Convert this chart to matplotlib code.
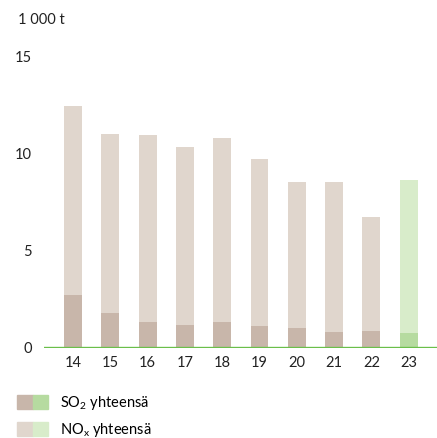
import matplotlib
matplotlib.use('Agg')
import matplotlib.pyplot as plt
from matplotlib.patches import Patch
from matplotlib.legend_handler import HandlerTuple

plt.rcParams['font.family'] = ['Lato', 'DejaVu Sans']
plt.rcParams['mathtext.fontset'] = 'custom'
plt.rcParams['mathtext.rm'] = 'Lato'

# data (1 000 t)
years = ['14', '15', '16', '17', '18', '19', '20', '21', '22', '23']
so2 = [2.73, 1.80, 1.34, 1.19, 1.34, 1.13, 1.03, 0.82, 0.88, 0.77]
nox = [9.74, 9.23, 9.64, 9.17, 9.48, 8.61, 7.53, 7.74, 5.87, 7.89]

# colours: older years brown, latest year green
so2_col = ['#c8b6aa'] * 9 + ['#b6dba0']
nox_col = ['#e0d6cd'] * 9 + ['#d8ecca']

fig = plt.figure(figsize=(4.37, 4.38), dpi=100)
ax = fig.add_axes([0.1007, 0.2055, 0.8993, 0.6645])

x = list(range(len(years)))
ax.bar(x, so2, width=0.48, color=so2_col)
ax.bar(x, nox, width=0.48, bottom=so2, color=nox_col)
ax.axhline(0, color='#6abf4a', lw=1.7, zorder=3)

ax.set_xlim(-0.78, 9.76)
ax.set_ylim(0, 15)
ax.set_yticks([0, 5, 10, 15])
ax.set_xticks(x)
ax.set_xticklabels(years)
ax.tick_params(length=0, labelsize=10.5, colors='#222222')
ax.tick_params(axis='y', pad=9)
ax.tick_params(axis='x', pad=6)
for s in ax.spines.values():
    s.set_visible(False)

fig.text(0.041, 0.955, '1 000 t', fontsize=10.5, color='#222222', va='center')

h1 = (Patch(color=so2_col[0]), Patch(color=so2_col[-1]))
h2 = (Patch(color=nox_col[0]), Patch(color=nox_col[-1]))
fig.legend([h1, h2], [r'$\mathregular{SO_2}$ yhteensä', r'$\mathregular{NO_x}$ yhteensä'],
           handler_map={tuple: HandlerTuple(ndivide=None, pad=0)},
           loc='upper left', bbox_to_anchor=(0.039, 0.100), frameon=False,
           fontsize=10.5, handlelength=2.12, handleheight=1.1, handletextpad=0.8,
           labelspacing=0.6, borderpad=0, borderaxespad=0)

fig.savefig('out.png', dpi=100)
